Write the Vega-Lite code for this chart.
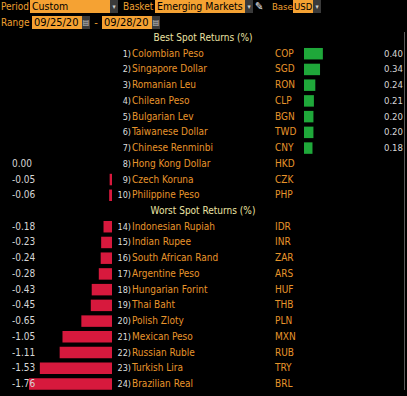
{
  "$schema": "https://vega.github.io/schema/vega-lite/v6.json",
  "background": "#000000",
  "padding": 0,
  "autosize": {"type": "pad"},
  "config": {
    "view": {"stroke": null},
    "concat": {"spacing": 0},
    "font": "DejaVu Sans Condensed, sans-serif",
    "text": {"font": "DejaVu Sans Condensed, sans-serif", "fontSize": 10, "baseline": "middle"},
    "locale": {"number": {"decimal": ".", "thousands": ",", "grouping": [3], "currency": ["$", ""], "minus": "-"}}
  },
  "datasets": {
    "fx": [
      {"rank": "1)", "name": "Colombian Peso", "code": "COP", "ret": 0.40},
      {"rank": "2)", "name": "Singapore Dollar", "code": "SGD", "ret": 0.34},
      {"rank": "3)", "name": "Romanian Leu", "code": "RON", "ret": 0.24},
      {"rank": "4)", "name": "Chilean Peso", "code": "CLP", "ret": 0.21},
      {"rank": "5)", "name": "Bulgarian Lev", "code": "BGN", "ret": 0.20},
      {"rank": "6)", "name": "Taiwanese Dollar", "code": "TWD", "ret": 0.20},
      {"rank": "7)", "name": "Chinese Renminbi", "code": "CNY", "ret": 0.18},
      {"rank": "8)", "name": "Hong Kong Dollar", "code": "HKD", "ret": 0.00},
      {"rank": "9)", "name": "Czech Koruna", "code": "CZK", "ret": -0.05},
      {"rank": "10)", "name": "Philippine Peso", "code": "PHP", "ret": -0.06},
      {"rank": "14)", "name": "Indonesian Rupiah", "code": "IDR", "ret": -0.18},
      {"rank": "15)", "name": "Indian Rupee", "code": "INR", "ret": -0.23},
      {"rank": "16)", "name": "South African Rand", "code": "ZAR", "ret": -0.24},
      {"rank": "17)", "name": "Argentine Peso", "code": "ARS", "ret": -0.28},
      {"rank": "18)", "name": "Hungarian Forint", "code": "HUF", "ret": -0.43},
      {"rank": "19)", "name": "Thai Baht", "code": "THB", "ret": -0.45},
      {"rank": "20)", "name": "Polish Zloty", "code": "PLN", "ret": -0.65},
      {"rank": "21)", "name": "Mexican Peso", "code": "MXN", "ret": -1.05},
      {"rank": "22)", "name": "Russian Ruble", "code": "RUB", "ret": -1.11},
      {"rank": "23)", "name": "Turkish Lira", "code": "TRY", "ret": -1.53},
      {"rank": "24)", "name": "Brazilian Real", "code": "BRL", "ret": -1.76}
    ]
  },
  "spacing": 3,
  "vconcat": [
    {
      "bounds": "flush",
      "hconcat": [
        {"width": 30, "height": 13, "data": {"values": [{"t": "Period"}]}, "mark": {"type": "text", "align": "left", "color": "#f0a030"}, "encoding": {"text": {"field": "t"}, "x": {"value": 1}}},
        {"width": 80, "height": 13, "view": {"fill": "#f5a233"}, "data": {"values": [{"t": "Custom"}]}, "mark": {"type": "text", "align": "left", "color": "#000000", "fontSize": 10.5}, "encoding": {"text": {"field": "t"}, "x": {"value": 2}}},
        {"width": 8, "height": 13, "view": {"fill": "#3a3a3a"}, "data": {"values": [{"t": "▾"}]}, "mark": {"type": "text", "align": "center", "color": "#d0d0d0", "fontSize": 7}, "encoding": {"text": {"field": "t"}}},
        {"width": 37, "height": 13, "data": {"values": [{"t": "Basket"}]}, "mark": {"type": "text", "align": "left", "color": "#f0a030"}, "encoding": {"text": {"field": "t"}, "x": {"value": 5}}},
        {"width": 90, "height": 13, "view": {"fill": "#f5a233"}, "data": {"values": [{"t": "Emerging Markets"}]}, "mark": {"type": "text", "align": "left", "color": "#000000", "fontSize": 10.5}, "encoding": {"text": {"field": "t"}, "x": {"value": 2}}},
        {"width": 8, "height": 13, "view": {"fill": "#3a3a3a"}, "data": {"values": [{"t": "▾"}]}, "mark": {"type": "text", "align": "center", "color": "#d0d0d0", "fontSize": 7}, "encoding": {"text": {"field": "t"}}},
        {"width": 18, "height": 13, "data": {"values": [{"t": "✎"}]}, "mark": {"type": "text", "align": "left", "color": "#f2f2f2", "fontSize": 11}, "encoding": {"text": {"field": "t"}, "x": {"value": 2}}},
        {"width": 22, "height": 13, "data": {"values": [{"t": "Base"}]}, "mark": {"type": "text", "align": "left", "color": "#f0a030", "fontSize": 9.5}, "encoding": {"text": {"field": "t"}, "x": {"value": 1}}},
        {"width": 20, "height": 13, "view": {"fill": "#f5a233"}, "data": {"values": [{"t": "USD"}]}, "mark": {"type": "text", "align": "left", "color": "#000000", "fontSize": 9.5}, "encoding": {"text": {"field": "t"}, "x": {"value": 1}}},
        {"width": 8, "height": 13, "view": {"fill": "#3a3a3a"}, "data": {"values": [{"t": "▾"}]}, "mark": {"type": "text", "align": "center", "color": "#d0d0d0", "fontSize": 7}, "encoding": {"text": {"field": "t"}}}
      ]
    },
    {
      "bounds": "flush",
      "hconcat": [
        {"width": 32, "height": 13, "data": {"values": [{"t": "Range"}]}, "mark": {"type": "text", "align": "left", "color": "#f0a030"}, "encoding": {"text": {"field": "t"}, "x": {"value": 1}}},
        {"width": 50, "height": 13, "view": {"fill": "#f5a233"}, "data": {"values": [{"t": "09/25/20"}]}, "mark": {"type": "text", "align": "left", "color": "#000000", "fontSize": 11}, "encoding": {"text": {"field": "t"}, "x": {"value": 2}}},
        {"width": 8, "height": 13, "view": {"fill": "#3a3a3a"}, "data": {"values": [{"t": "▤"}]}, "mark": {"type": "text", "align": "center", "color": "#c8c8c8", "fontSize": 8}, "encoding": {"text": {"field": "t"}}},
        {"width": 12, "height": 13, "data": {"values": [{"t": "-"}]}, "mark": {"type": "text", "align": "center", "color": "#f0a030", "fontSize": 11}, "encoding": {"text": {"field": "t"}}},
        {"width": 50, "height": 13, "view": {"fill": "#f5a233"}, "data": {"values": [{"t": "09/28/20"}]}, "mark": {"type": "text", "align": "left", "color": "#000000", "fontSize": 11}, "encoding": {"text": {"field": "t"}, "x": {"value": 2}}},
        {"width": 8, "height": 13, "view": {"fill": "#3a3a3a"}, "data": {"values": [{"t": "▤"}]}, "mark": {"type": "text", "align": "center", "color": "#c8c8c8", "fontSize": 8}, "encoding": {"text": {"field": "t"}}}
      ]
    },
    {
      "bounds": "flush",
      "hconcat": [
        {
          "width": 112, "height": 358,
          "data": {"name": "fx"},
          "encoding": {
            "y": {"field": "name", "type": "nominal", "axis": null, "scale": {"type": "band", "paddingInner": 0.27, "paddingOuter": 0.015, "domain": ["Best Spot Returns (%)", "Colombian Peso", "Singapore Dollar", "Romanian Leu", "Chilean Peso", "Bulgarian Lev", "Taiwanese Dollar", "Chinese Renminbi", "Hong Kong Dollar", "Czech Koruna", "Philippine Peso", "Worst Spot Returns (%)", "Indonesian Rupiah", "Indian Rupee", "South African Rand", "Argentine Peso", "Hungarian Forint", "Thai Baht", "Polish Zloty", "Mexican Peso", "Russian Ruble", "Turkish Lira", "Brazilian Real"]}}
          },
          "layer": [
            {
              "transform": [{"filter": "datum.ret < 0"}],
              "mark": {"type": "bar", "color": "#d7193d"},
              "encoding": {
                "x": {"field": "ret", "type": "quantitative", "axis": null, "scale": {"domain": [-2.375, 0], "nice": false, "zero": false}},
                "x2": {"datum": 0}
              }
            },
            {
              "transform": [{"filter": "datum.ret <= 0"}],
              "mark": {"type": "text", "align": "left", "color": "#d6d6d6"},
              "encoding": {
                "x": {"value": 12},
                "text": {"field": "ret", "type": "quantitative", "format": ".2f"}
              }
            }
          ]
        },
        {
          "width": 163, "height": 358,
          "encoding": {
            "y": {"field": "name", "type": "nominal", "axis": null, "scale": {"type": "band", "paddingInner": 0.27, "paddingOuter": 0.015, "domain": ["Best Spot Returns (%)", "Colombian Peso", "Singapore Dollar", "Romanian Leu", "Chilean Peso", "Bulgarian Lev", "Taiwanese Dollar", "Chinese Renminbi", "Hong Kong Dollar", "Czech Koruna", "Philippine Peso", "Worst Spot Returns (%)", "Indonesian Rupiah", "Indian Rupee", "South African Rand", "Argentine Peso", "Hungarian Forint", "Thai Baht", "Polish Zloty", "Mexican Peso", "Russian Ruble", "Turkish Lira", "Brazilian Real"]}}
          },
          "layer": [
            {
              "data": {"name": "fx"},
              "mark": {"type": "text", "align": "right", "color": "#dedede", "fontSize": 9},
              "encoding": {
                "x": {"value": 19},
                "text": {"field": "rank"}
              }
            },
            {
              "data": {"name": "fx"},
              "mark": {"type": "text", "align": "left", "color": "#e8952b"},
              "encoding": {
                "x": {"value": 20},
                "text": {"field": "name"}
              }
            },
            {
              "data": {"values": [{"name": "Best Spot Returns (%)"}, {"name": "Worst Spot Returns (%)"}]},
              "mark": {"type": "text", "align": "center", "color": "#ece4a4"},
              "encoding": {
                "x": {"value": 91},
                "text": {"field": "name"}
              }
            }
          ]
        },
        {
          "width": 29, "height": 358,
          "data": {"name": "fx"},
          "mark": {"type": "text", "align": "left", "color": "#e8952b"},
          "encoding": {
            "y": {"field": "name", "type": "nominal", "axis": null, "scale": {"type": "band", "paddingInner": 0.27, "paddingOuter": 0.015, "domain": ["Best Spot Returns (%)", "Colombian Peso", "Singapore Dollar", "Romanian Leu", "Chilean Peso", "Bulgarian Lev", "Taiwanese Dollar", "Chinese Renminbi", "Hong Kong Dollar", "Czech Koruna", "Philippine Peso", "Worst Spot Returns (%)", "Indonesian Rupiah", "Indian Rupee", "South African Rand", "Argentine Peso", "Hungarian Forint", "Thai Baht", "Polish Zloty", "Mexican Peso", "Russian Ruble", "Turkish Lira", "Brazilian Real"]}},
            "x": {"value": 0},
            "text": {"field": "code"}
          }
        },
        {
          "width": 83, "height": 358,
          "data": {"name": "fx"},
          "transform": [{"filter": "datum.ret > 0"}],
          "mark": {"type": "bar", "color": "#1fa83a"},
          "encoding": {
            "y": {"field": "name", "type": "nominal", "axis": null, "scale": {"type": "band", "paddingInner": 0.27, "paddingOuter": 0.015, "domain": ["Best Spot Returns (%)", "Colombian Peso", "Singapore Dollar", "Romanian Leu", "Chilean Peso", "Bulgarian Lev", "Taiwanese Dollar", "Chinese Renminbi", "Hong Kong Dollar", "Czech Koruna", "Philippine Peso", "Worst Spot Returns (%)", "Indonesian Rupiah", "Indian Rupee", "South African Rand", "Argentine Peso", "Hungarian Forint", "Thai Baht", "Polish Zloty", "Mexican Peso", "Russian Ruble", "Turkish Lira", "Brazilian Real"]}},
            "x": {"field": "ret", "type": "quantitative", "axis": null, "scale": {"domain": [0, 1.76], "nice": false, "zero": false}},
            "x2": {"datum": 0}
          }
        },
        {
          "width": 17, "height": 358,
          "data": {"name": "fx"},
          "transform": [{"filter": "datum.ret > 0"}],
          "mark": {"type": "text", "align": "right", "color": "#d6d6d6", "fontSize": 9.5},
          "encoding": {
            "y": {"field": "name", "type": "nominal", "axis": null, "scale": {"type": "band", "paddingInner": 0.27, "paddingOuter": 0.015, "domain": ["Best Spot Returns (%)", "Colombian Peso", "Singapore Dollar", "Romanian Leu", "Chilean Peso", "Bulgarian Lev", "Taiwanese Dollar", "Chinese Renminbi", "Hong Kong Dollar", "Czech Koruna", "Philippine Peso", "Worst Spot Returns (%)", "Indonesian Rupiah", "Indian Rupee", "South African Rand", "Argentine Peso", "Hungarian Forint", "Thai Baht", "Polish Zloty", "Mexican Peso", "Russian Ruble", "Turkish Lira", "Brazilian Real"]}},
            "x": {"value": 16},
            "text": {"field": "ret", "type": "quantitative", "format": ".2f"}
          }
        },
        {"width": 1, "height": 358, "view": {"fill": "#5a5a5a"}, "data": {"values": [{}]}, "mark": "text"},
        {"width": 2, "height": 358, "data": {"values": [{}]}, "mark": "text"}
      ]
    },
    {"width": 407, "height": 3, "view": {"fill": "#17174f"}, "data": {"values": [{}]}, "mark": "text"}
  ]
}
